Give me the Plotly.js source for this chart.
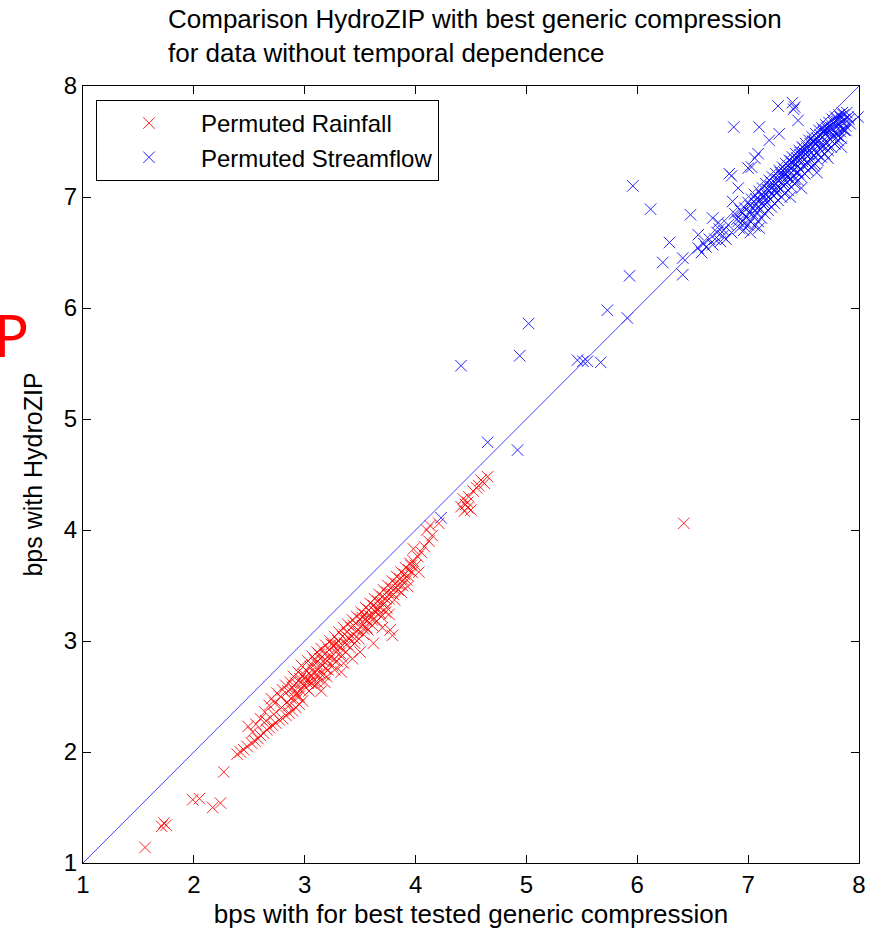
<!DOCTYPE html>
<html>
<head>
<meta charset="utf-8">
<script src="https://cdn.plot.ly/plotly-3.0.1.min.js"></script>
<style>html,body{margin:0;padding:0;background:#fff;}#chart{width:875px;height:934px;}</style>
</head>
<body>
<div id="chart"></div>
<script>
// ---- data ----
const chartTitle = 'Comparison HydroZIP with best generic compression<br>for data without temporal dependence';
const xTitle = 'bps with for best tested generic compression';
const yTitle = 'bps with HydroZIP';
const seriesNames = ['Permuted Rainfall', 'Permuted Streamflow'];
const tickValues = [1, 2, 3, 4, 5, 6, 7, 8];
const axisRange = [1, 8];
const diagonalX = [1, 8];
const diagonalY = [1, 8];

const rainfallX = [
  1.56,1.71,1.73,1.75,1.99,2.05,2.17,2.24,2.27,2.39,
  2.42,2.45,2.48,2.52,2.55,2.58,2.60,2.63,2.66,2.68,
  2.71,2.74,2.77,2.80,2.83,2.86,2.89,2.92,2.95,2.98,
  2.49,2.53,2.56,2.60,2.64,2.68,2.70,2.73,2.75,2.78,
  2.80,2.83,2.85,2.87,2.89,2.90,2.92,2.94,2.96,2.97,
  2.99,2.65,2.72,2.79,2.84,2.88,2.93,2.96,2.99,3.01,
  3.02,3.03,3.04,3.05,3.06,3.07,3.08,3.09,3.10,3.11,
  3.12,3.13,3.14,3.15,3.16,3.17,3.18,3.19,3.20,3.21,
  3.22,3.23,3.24,3.25,3.26,3.27,3.28,3.29,3.30,3.31,
  3.32,3.33,3.34,3.35,3.36,3.37,3.38,3.39,3.40,3.41,
  3.42,3.43,3.44,3.45,3.46,3.47,3.48,3.49,3.50,3.03,
  3.12,3.20,3.27,3.35,3.43,3.50,3.15,3.33,3.51,3.52,
  3.53,3.54,3.55,3.56,3.57,3.58,3.59,3.60,3.61,3.62,
  3.63,3.64,3.65,3.66,3.67,3.68,3.69,3.70,3.71,3.72,
  3.73,3.74,3.75,3.76,3.78,3.79,3.80,3.82,3.83,3.84,
  3.86,3.87,3.88,3.90,3.91,3.92,3.94,3.95,3.97,3.98,
  4.00,4.02,4.05,3.56,3.76,3.79,3.77,3.62,3.70,4.08,
  4.10,4.12,3.98,4.15,4.13,4.21,4.41,4.43,4.45,4.47,
  4.50,4.48,4.52,4.55,4.57,4.59,4.62,4.65,4.47,4.44,
  6.42,
  2.91,2.97,3.04,3.06,3.09,3.13,3.17,3.21,3.24,3.28,
  3.31,3.36,3.39,3.44,3.47,3.52,3.55,3.58,3.63,3.66,
  3.69,3.73,3.77,3.81,3.85,3.89,3.93,3.96,2.95,3.01,
  3.08,3.14,3.19,3.26,3.32,3.38,3.45,3.53,3.61,3.68,
  3.74,3.81,3.87,3.93,4.03,2.86,2.93,3.00,3.11,3.18
];
const rainfallY = [
  1.14,1.33,1.36,1.34,1.57,1.58,1.50,1.54,1.82,1.98,
  2.00,2.02,2.05,2.08,2.10,2.12,2.15,2.17,2.20,2.22,
  2.24,2.26,2.29,2.30,2.33,2.35,2.37,2.40,2.43,2.46,
  2.23,2.18,2.25,2.30,2.36,2.42,2.48,2.44,2.53,2.50,
  2.56,2.60,2.55,2.63,2.58,2.68,2.62,2.72,2.66,2.78,
  2.70,2.28,2.34,2.40,2.45,2.48,2.52,2.56,2.60,2.74,
  2.65,2.82,2.55,2.77,2.68,2.86,2.72,2.60,2.80,2.90,
  2.75,2.66,2.84,2.93,2.78,2.70,2.88,2.96,2.82,2.74,
  2.92,3.00,2.86,2.78,2.96,3.04,2.90,2.82,3.00,3.08,
  2.94,2.86,3.04,3.12,2.98,2.90,3.08,3.15,3.02,2.94,
  3.12,3.19,3.06,2.98,3.16,3.22,3.10,3.02,3.20,2.62,
  2.62,2.68,2.74,2.80,2.84,2.90,2.55,2.72,3.26,3.14,
  3.06,3.24,3.30,3.18,3.10,3.28,3.34,3.22,3.14,3.32,
  3.38,3.26,3.18,3.36,3.42,3.30,3.22,3.40,3.46,3.34,
  3.26,3.44,3.50,3.38,3.48,3.54,3.42,3.52,3.58,3.46,
  3.56,3.62,3.50,3.60,3.66,3.55,3.64,3.70,3.62,3.72,
  3.68,3.76,3.80,3.12,3.24,3.05,3.10,2.98,3.12,3.85,
  4.00,3.90,3.83,3.95,4.04,4.06,4.21,4.28,4.23,4.25,
  4.18,4.30,4.35,4.38,4.40,4.45,4.42,4.48,4.20,4.17,
  4.06,
  2.55,2.63,2.71,2.62,2.83,2.88,2.82,2.86,2.97,2.97,
  2.96,3.06,3.03,3.14,3.09,3.21,3.20,3.23,3.27,3.29,
  3.35,3.38,3.43,3.47,3.51,3.55,3.59,3.68,2.50,2.58,
  2.64,2.71,2.75,2.83,2.89,2.97,3.02,3.11,3.19,3.25,
  3.30,3.37,3.44,3.49,3.62,2.42,2.50,2.67,2.70,2.63
];

const streamflowX = [
  4.23,4.41,4.65,4.92,4.94,5.02,5.46,5.51,5.55,5.67,
  5.73,5.91,5.93,5.96,6.12,6.23,6.29,6.41,6.41,6.48,
  6.55,6.55,6.60,6.68,6.68,6.73,6.77,6.83,6.86,6.91,
  6.94,6.85,6.87,7.10,7.27,7.40,7.42,7.41,7.99,7.03,
  7.09,7.19,7.28,7.45,7.87,7.78,7.59,7.42,6.74,6.91,
  7.00,7.06,6.62,6.70,6.75,6.78,6.80,6.82,6.85,6.88,
  6.72,6.65,6.58,6.90,6.92,6.93,6.95,6.96,6.97,6.98,
  7.00,7.00,7.01,7.02,7.03,7.04,7.05,7.06,7.06,7.07,
  7.08,7.09,7.10,7.10,7.11,7.12,7.13,7.13,7.14,7.15,
  7.16,7.16,7.17,7.18,7.19,7.19,7.20,7.21,7.22,7.22,
  7.23,7.24,7.25,7.25,7.26,7.27,7.28,7.28,7.29,7.30,
  7.31,7.31,7.32,7.33,7.34,7.34,7.35,7.36,7.37,7.37,
  7.38,7.39,7.40,7.40,7.41,7.42,7.43,7.43,7.44,7.45,
  7.46,7.46,7.47,7.48,7.49,7.49,7.50,7.51,7.52,7.52,
  7.53,7.54,7.55,7.55,7.56,7.57,7.58,7.58,7.59,7.60,
  7.61,7.61,7.62,7.63,7.64,7.64,7.65,7.66,7.67,7.67,
  7.68,7.69,7.70,7.70,7.71,7.72,7.73,7.73,7.74,7.75,
  7.76,7.76,7.77,7.78,7.79,7.79,7.80,7.81,7.82,7.82,
  7.83,7.84,7.85,7.85,7.86,7.87,7.88,7.90,7.92,7.15,
  7.25,7.35,7.45,7.55,7.65,7.75,7.20,7.30,7.40,7.50,
  7.60,7.70,7.80,7.33,7.47,7.58,7.68,7.38,7.48,7.62,
  7.72,7.84,7.02,7.10,
  6.95,7.02,7.07,7.12,7.17,7.21,7.26,7.29,7.33,7.36,
  7.39,7.42,7.44,7.47,7.50,7.53,7.56,7.59,7.62,7.65,
  7.68,7.71,7.74,7.77,7.80,7.83,7.86,7.89,7.04,7.14,
  7.24,7.32,7.41,7.49,7.57,7.66,7.75,7.83,7.91,6.97,
  7.08,7.18,7.27,7.36,7.45,7.54,7.63,7.72,7.81,7.88
];
const streamflowY = [
  4.11,5.48,4.79,4.72,5.57,5.86,5.53,5.52,5.52,5.51,
  5.98,5.91,6.29,7.10,6.89,6.41,6.59,6.30,6.45,6.84,
  6.66,6.54,6.58,6.57,6.81,6.77,6.65,7.21,6.96,6.78,
  6.87,7.19,7.63,7.63,7.82,7.85,7.81,7.79,7.72,7.27,
  7.39,7.51,7.57,7.69,7.60,7.48,7.28,7.16,6.71,7.08,
  7.26,7.35,6.55,6.62,6.60,6.70,6.62,6.75,6.68,6.85,
  6.68,6.62,6.50,6.80,6.72,6.88,6.78,6.70,6.90,6.82,
  6.75,6.95,6.86,6.78,6.98,6.90,6.82,6.74,7.02,6.94,
  6.86,6.78,7.05,6.97,6.89,6.81,7.08,7.00,6.92,6.85,
  7.12,7.03,6.95,6.88,7.15,7.06,6.98,6.91,7.18,7.09,
  7.01,6.94,7.21,7.12,7.04,6.97,7.24,7.15,7.07,7.00,
  7.27,7.18,7.10,7.03,7.30,7.21,7.13,7.06,7.33,7.24,
  7.16,7.09,7.36,7.27,7.19,7.12,7.39,7.30,7.22,7.15,
  7.42,7.33,7.25,7.18,7.45,7.36,7.28,7.21,7.48,7.39,
  7.31,7.24,7.51,7.42,7.34,7.27,7.54,7.45,7.37,7.30,
  7.57,7.48,7.40,7.33,7.60,7.51,7.43,7.36,7.62,7.54,
  7.46,7.39,7.65,7.57,7.49,7.42,7.67,7.60,7.52,7.45,
  7.70,7.62,7.55,7.48,7.72,7.64,7.57,7.51,7.74,7.66,
  7.59,7.53,7.76,7.68,7.61,7.70,7.64,7.72,7.66,7.00,
  7.08,7.18,7.28,7.38,7.48,7.58,7.10,7.20,7.30,7.40,
  7.50,7.60,7.68,7.25,7.38,7.50,7.58,7.00,7.08,7.22,
  7.35,7.45,6.68,6.72,
  6.86,6.92,6.98,7.02,7.07,7.13,7.16,7.22,7.22,7.28,
  7.32,7.34,7.35,7.40,7.44,7.45,7.48,7.50,7.53,7.56,
  7.60,7.62,7.63,7.67,7.70,7.72,7.74,7.76,6.85,6.95,
  7.05,7.13,7.24,7.32,7.40,7.46,7.55,7.63,7.70,6.76,
  6.90,7.00,7.10,7.19,7.22,7.30,7.38,7.46,7.55,7.60
];

// ---- drawing ----
const FONT = 'Liberation Sans, Arial, sans-serif';
const RED = 'rgb(255,0,0)';
const BLUE = 'rgb(0,0,255)';
const LINE_BLUE = 'rgb(70,70,255)';

function crossMarker(color) {
  return { symbol: 'x-thin', size: 11.5, color: color, opacity: 0.85, line: { color: color, width: 1 } };
}

const traces = [
  { type: 'scatter', mode: 'markers', name: seriesNames[0], x: rainfallX, y: rainfallY,
    marker: crossMarker(RED), cliponaxis: false },
  { type: 'scatter', mode: 'markers', name: seriesNames[1], x: streamflowX, y: streamflowY,
    marker: crossMarker(BLUE), cliponaxis: false },
  { type: 'scatter', mode: 'lines', x: diagonalX, y: diagonalY, showlegend: false,
    line: { color: LINE_BLUE, width: 1 }, hoverinfo: 'skip' }
];

const axisCommon = {
  range: axisRange, tickmode: 'array', tickvals: tickValues,
  ticks: 'inside', ticklen: 8, tickwidth: 1, tickcolor: '#000',
  showline: true, linecolor: '#000', linewidth: 1, mirror: 'ticks',
  showgrid: false, zeroline: false,
  tickfont: { family: FONT, size: 24, color: '#000' }
};

const layout = {
  width: 875, height: 934,
  margin: { l: 83, r: 16, t: 86, b: 71, pad: 0 },
  paper_bgcolor: '#fff', plot_bgcolor: '#fff',
  font: { family: FONT, color: '#000' },
  title: { text: chartTitle, xref: 'container', x: 168 / 875, xanchor: 'left',
    yref: 'container', y: 1 - 28 / 934, yanchor: 'top',
    font: { family: FONT, size: 26, color: '#000' } },
  xaxis: Object.assign({}, axisCommon, {
    title: { text: xTitle, font: { family: FONT, size: 26, color: '#000' }, standoff: 8 }
  }),
  yaxis: Object.assign({}, axisCommon, {
    title: { text: yTitle, font: { family: FONT, size: 25, color: '#000' }, standoff: 14 }
  }),
  showlegend: true,
  legend: { x: 13 / 776, y: 0.982, xanchor: 'left', yanchor: 'top',
    bgcolor: '#fff', bordercolor: '#000', borderwidth: 1,
    itemwidth: 94, tracegroupgap: 0, entrywidthmode: 'pixels', entrywidth: 265,
    font: { family: FONT, size: 24, color: '#000' } },
  annotations: [
    { text: 'P', xref: 'paper', yref: 'paper', x: (31 - 83) / 776, y: (862.7 - 334) / 777,
      xanchor: 'right', yanchor: 'middle', showarrow: false,
      font: { family: 'Noto Sans, sans-serif', size: 58, color: RED } }
  ]
};

Plotly.newPlot('chart', traces, layout, { displayModeBar: false, staticPlot: true });
</script>
</body>
</html>
